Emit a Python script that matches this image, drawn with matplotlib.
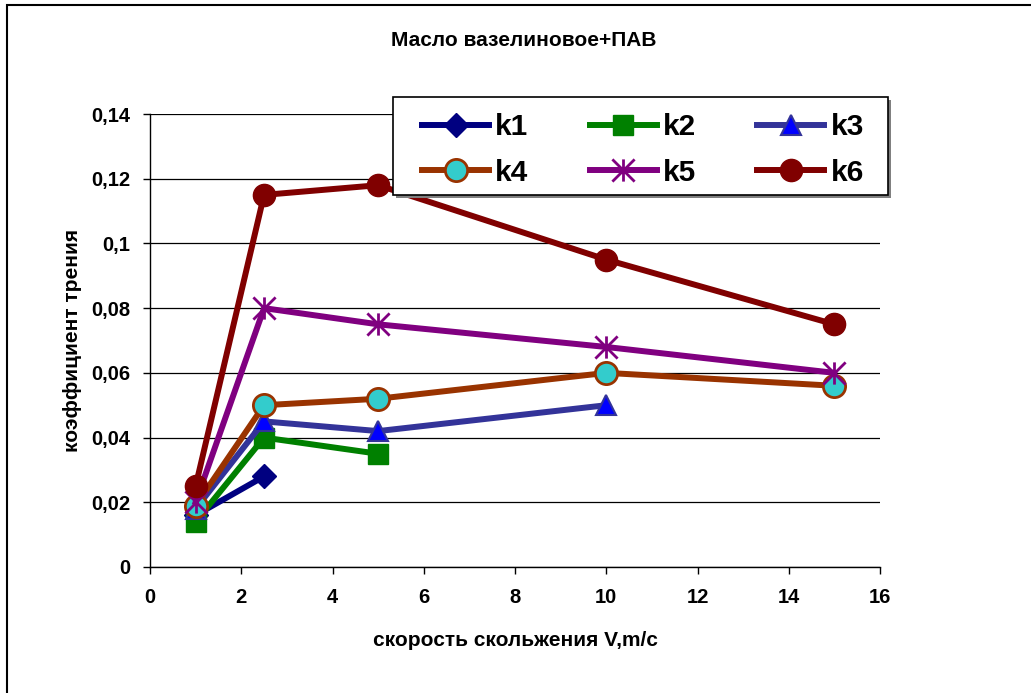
import matplotlib.pyplot as plt
import numpy as np
from matplotlib.path import Path
from matplotlib.patches import Rectangle
from matplotlib.ticker import FuncFormatter

plt.rcParams['font.family'] = ['Liberation Sans', 'DejaVu Sans']
plt.rcParams['font.weight'] = 'bold'

# скорость скольжения, м/с
v1 = [1, 2.5]
v2 = [1, 2.5, 5]
v3 = [1, 2.5, 5, 10]
v4 = [1, 2.5, 5, 10, 15]

k1 = [0.016, 0.028]
k2 = [0.014, 0.040, 0.035]
k3 = [0.018, 0.045, 0.042, 0.050]
k4 = [0.019, 0.050, 0.052, 0.060, 0.056]
k5 = [0.020, 0.080, 0.075, 0.068, 0.060]
k6 = [0.025, 0.115, 0.118, 0.095, 0.075]

x_ticks = [0, 2, 4, 6, 8, 10, 12, 14, 16]
y_ticks = [0, 0.02, 0.04, 0.06, 0.08, 0.1, 0.12, 0.14]

W, H = 1031, 693

# звёздочка как в Excel: крест + вертикальная черта
star = Path([(-1, -1), (1, 1), (-1, 1), (1, -1), (0, -1), (0, 1)],
            [Path.MOVETO, Path.LINETO, Path.MOVETO, Path.LINETO, Path.MOVETO, Path.LINETO])

fig = plt.figure(figsize=(W/100, H/100), dpi=100)
ax = fig.add_axes([150/W, 1-567/H, 730/W, 453/H])

lw = 4.3
ax.plot(v1, k1, color='#000080', lw=lw, marker='D', ms=12, mfc='#000080', mec='#000080', label='k1')
ax.plot(v2, k2, color='#008000', lw=lw, marker='s', ms=14, mfc='#008000', mec='#008000', label='k2')
ax.plot(v3, k3, color='#333399', lw=lw, marker='^', ms=14, mfc='#0000FF', mec='#333399', mew=1.5, label='k3')
ax.plot(v4, k4, color='#993300', lw=lw, marker='o', ms=16, mfc='#33CCCC', mec='#993300', mew=2, label='k4')
ax.plot(v4, k5, color='#800080', lw=lw, marker=star, ms=16, mfc='none', mec='#800080', mew=2, label='k5')
ax.plot(v4, k6, color='#800000', lw=lw, marker='o', ms=16, mfc='#800000', mec='#800000', label='k6')

ax.set_xlim(0, 16)
ax.set_ylim(0, 0.14)
ax.set_xticks(x_ticks)
ax.set_yticks(y_ticks)
ax.yaxis.set_major_formatter(FuncFormatter(lambda v, p: ('%g' % round(v, 2)).replace('.', ',')))
ax.tick_params(labelsize=14.5, length=5, width=1, direction='out')
ax.tick_params(axis='x', pad=10)
ax.tick_params(axis='y', pad=9)
ax.grid(axis='y', color='black', lw=0.9)
ax.set_axisbelow(True)
for s in ['top', 'right']:
    ax.spines[s].set_visible(False)
for s in ['left', 'bottom']:
    ax.spines[s].set_linewidth(1)

fig.text(515/W, 1-640/H, 'скорость скольжения V,m/c', ha='center', va='center', fontsize=15, fontweight='bold')
fig.text(73/W, 1-340/H, 'коэффициент трения', ha='center', va='center', rotation=90, fontsize=15, fontweight='bold')
fig.text(524/W, 1-41/H, 'Масло вазелиновое+ПАВ', ha='center', va='center', fontsize=15, fontweight='bold')

# рамка легенды с тенью
fig.patches.append(Rectangle((396/W, 1-198/H), 495/W, 98/H, transform=fig.transFigure,
                             facecolor='#808080', edgecolor='none', zorder=9))
fig.patches.append(Rectangle((393/W, 1-195/H), 495/W, 98/H, transform=fig.transFigure,
                             facecolor='white', edgecolor='black', lw=1.2, zorder=9.5))

h, l = ax.get_legend_handles_labels()
order = [0, 3, 1, 4, 2, 5]
leg = fig.legend([h[i] for i in order], [l[i] for i in order], ncol=3,
                 loc='upper left', bbox_to_anchor=(422/W, 1-113/H), borderaxespad=0,
                 prop={'size': 21.5, 'weight': 'bold'}, handlelength=2.25,
                 handletextpad=0.2, columnspacing=2.05, labelspacing=0.6,
                 borderpad=0, frameon=False)
leg.set_zorder(10)

fig.patches.append(Rectangle((7/W, -0.1), 1.2, 1-5/H+0.1, transform=fig.transFigure,
                             fill=False, edgecolor='black', lw=1.5))

fig.savefig('out.png', dpi=100)
